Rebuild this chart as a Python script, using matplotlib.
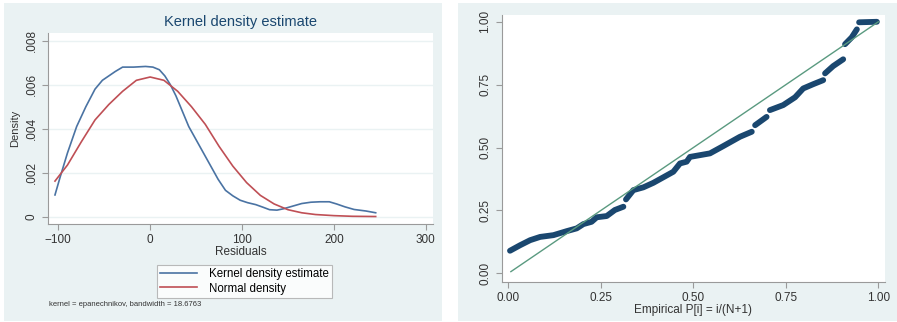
import numpy as np
import matplotlib
matplotlib.use("Agg")
import matplotlib.pyplot as plt
from matplotlib.patches import Rectangle

plt.rcParams['font.family'] = ['Liberation Sans', 'DejaVu Sans']

# ---- Left panel data: kernel density of residuals ----
kde_x = [-103.6, -98, -90, -80, -70, -60, -52, -45, -38, -30, -18, -5, 3, 10, 16, 22, 28,
         35, 42, 50, 58, 66, 74, 82, 90, 98, 106, 115, 123, 130, 138, 145, 155, 165, 175,
         185, 195, 203, 212, 222, 235, 245.5]
kde_y = [0.00099, 0.0018, 0.0029, 0.0041, 0.0050, 0.0058, 0.0062, 0.0064, 0.0066, 0.0068,
         0.0068, 0.00683, 0.0068, 0.00668, 0.0064, 0.0060, 0.0055, 0.0048, 0.0041, 0.0035,
         0.0029, 0.0023, 0.0017, 0.0012, 0.00095, 0.00075, 0.00064, 0.00055, 0.00043, 0.00032,
         0.0003, 0.00036, 0.00048, 0.0006, 0.00066, 0.00068, 0.00068, 0.00058, 0.00045,
         0.00033, 0.00026, 0.00018]
norm_x = [-103.6, -90, -75, -60, -45, -30, -15, 0, 15, 30, 45, 60, 75, 90, 105, 120, 135,
          150, 165, 180, 200, 220, 245.5]
norm_y = [0.00162, 0.00235, 0.0034, 0.0044, 0.0051, 0.0057, 0.0062, 0.00635, 0.0062, 0.0057,
          0.0050, 0.0042, 0.0032, 0.0023, 0.00155, 0.00097, 0.00058, 0.00032, 0.00018, 0.0001,
          0.00005, 0.00002, 0.00001]
left_xticks = [-100, 0, 100, 200, 300]
left_yticks = [0, 0.002, 0.004, 0.006, 0.008]
left_yticklabels = ['0', '.002', '.004', '.006', '.008']
legend_labels = ['Kernel density estimate', 'Normal density']

# ---- Right panel data: normal probability plot ----
pp_x = [0.0046, 0.032, 0.059, 0.086, 0.122, 0.158, 0.185, 0.203, 0.225, 0.239, 0.266, 0.288, 0.311,
        np.nan,
        0.318, 0.338, 0.365, 0.392, 0.419, 0.446, 0.464, 0.482, 0.491, 0.545, 0.581, 0.626, 0.658,
        np.nan,
        0.667, 0.698,
        np.nan,
        0.707, 0.743, 0.775, 0.797, 0.824, 0.851,
        np.nan,
        0.856, 0.878, 0.905,
        np.nan,
        0.910, 0.928, 0.942,
        np.nan,
        0.948, 0.996]
pp_y = [0.090, 0.112, 0.132, 0.145, 0.152, 0.168, 0.179, 0.196, 0.205, 0.223, 0.228, 0.252, 0.265,
        np.nan,
        0.294, 0.331, 0.342, 0.360, 0.382, 0.404, 0.437, 0.444, 0.463, 0.477, 0.506, 0.543, 0.563,
        np.nan,
        0.589, 0.622,
        np.nan,
        0.649, 0.669, 0.700, 0.735, 0.752, 0.768,
        np.nan,
        0.795, 0.824, 0.851,
        np.nan,
        0.911, 0.938, 0.970,
        np.nan,
        0.998, 1.0]
ref_line = [0.007, 1.0]
right_ticks = [0.0, 0.25, 0.5, 0.75, 1.0]
right_ticklabels = ['0.00', '0.25', '0.50', '0.75', '1.00']

W, H = 897, 322
fig = plt.figure(figsize=(W / 100, H / 100), dpi=100)
fig.patch.set_facecolor('white')

bg = '#eaf2f3'
fig.patches.append(Rectangle((4 / W, 1 / H), 438 / W, 318 / H, transform=fig.transFigure,
                             facecolor=bg, edgecolor='none', zorder=-10))
fig.patches.append(Rectangle((458 / W, 1 / H), 439 / W, 318 / H, transform=fig.transFigure,
                             facecolor=bg, edgecolor='none', zorder=-10))

axis_col = '#9a9a9a'
text_col = '#333333'

def style_axes(ax):
    ax.set_zorder(2)
    ax.set_facecolor('white')
    for s in ['top', 'right']:
        ax.spines[s].set_visible(False)
    for s in ['left', 'bottom']:
        ax.spines[s].set_color(axis_col)
        ax.spines[s].set_linewidth(0.8)
    ax.tick_params(colors=axis_col, labelcolor=text_col, length=4, width=0.8, labelsize=8.5)

# Left axes
axL = fig.add_axes([48 / W, (H - 224) / H, 385 / W, 191 / H])
style_axes(axL)
for t in left_yticks:
    axL.axhline(t, color='#eaf2f3', lw=1.0, zorder=0)
l1, = axL.plot(kde_x, kde_y, color='#4a73a3', lw=1.2, solid_joinstyle='round')
l2, = axL.plot(norm_x, norm_y, color='#bf4f55', lw=1.2, solid_joinstyle='round')
axL.set_xlim(-111.2, 307.9)
axL.set_ylim(-0.00033, 0.00835)
axL.set_xticks(left_xticks)
axL.set_yticks(left_yticks)
axL.set_yticklabels(left_yticklabels, rotation=90, va='center')
axL.set_xlabel('Residuals', fontsize=8.5, color=text_col, labelpad=0)
axL.set_ylabel('Density', fontsize=8, color=text_col, labelpad=4)
axL.set_title('Kernel density estimate', fontsize=10.5, color='#1a476f', pad=5)
leg = fig.legend([l1, l2], legend_labels, loc='upper left',
                 bbox_to_anchor=(151 / W, (H - 259) / H), fontsize=8.3,
                 frameon=True, fancybox=False, edgecolor='#aaaaaa', handlelength=3.2,
                 borderpad=0.3, labelspacing=0.2, handletextpad=1.0)
leg.get_frame().set_linewidth(0.8)
leg.set_zorder(5)
fig.text(49 / W, (H - 305) / H, 'kernel = epanechnikov, bandwidth = 18.6763',
         fontsize=5.5, color=text_col, va='center', ha='left')

# Right axes
axR = fig.add_axes([501.7 / W, (H - 281.7) / H, 383.3 / W, 266.7 / H])
style_axes(axR)
axR.plot(pp_x, pp_y, color='#1a476f', lw=4.2, solid_capstyle='round', solid_joinstyle='round')
axR.plot(ref_line, ref_line, color='#5a9a80', lw=1.0)
axR.set_xlim(-0.0178, 1.018)
axR.set_ylim(-0.033, 1.027)
axR.set_xticks(right_ticks)
axR.set_xticklabels(right_ticklabels)
axR.set_yticks(right_ticks)
axR.set_yticklabels(right_ticklabels, rotation=90, va='center')
axR.set_xlabel('Empirical P[i] = i/(N+1)', fontsize=8.5, color=text_col, labelpad=0)

fig.savefig('out.png', dpi=100)
